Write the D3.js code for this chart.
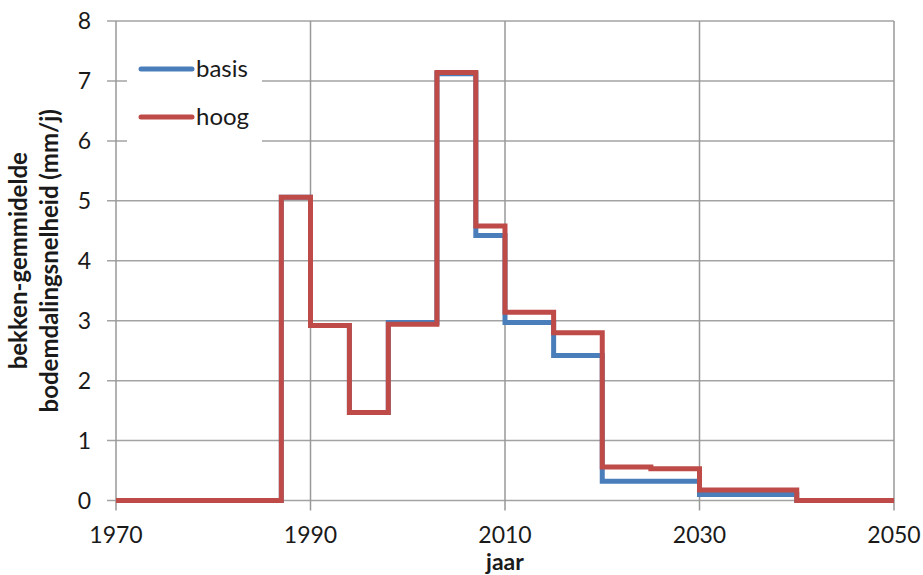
<!DOCTYPE html>
<html>
<head>
<meta charset="utf-8">
<script src="https://cdn.jsdelivr.net/npm/d3@7"></script>
<style>
  html, body { margin: 0; padding: 0; background: #fff; }
  svg { display: block; }
  text { font-family: Lato, "Open Sans", sans-serif; fill: #1a1a1a; }
</style>
</head>
<body>
<svg id="chart" width="923" height="575"></svg>
<script>
// Step edges (years) and the rate that applies from each edge onward
const years = [1970, 1987, 1990, 1994, 1998, 2003, 2007, 2010, 2015, 2020, 2025, 2030, 2040, 2050];
const basis = [0, 5.06, 2.92, 1.47, 2.97, 7.12, 4.42, 2.97, 2.42, 0.32, 0.32, 0.10, 0, 0];
const hoog  = [0, 5.06, 2.92, 1.47, 2.94, 7.14, 4.58, 3.14, 2.80, 0.56, 0.53, 0.175, 0, 0];

const xTicks = [1970, 1990, 2010, 2030, 2050];
const yTicks = [0, 1, 2, 3, 4, 5, 6, 7, 8];
const seriesNames = ["basis", "hoog"];
const seriesColors = ["#4a7ebb", "#be4b48"];

const plot = { left: 116, right: 894, top: 21, bottom: 500.5 };

const svg = d3.select("#chart");
const x = d3.scaleLinear().domain([1970, 2050]).range([plot.left, plot.right]);
const y = d3.scaleLinear().domain([0, 8]).range([plot.bottom, plot.top]);

const gridColor = "#a3a3a3";

// horizontal gridlines
svg.append("g").selectAll("line").data(yTicks).join("line")
  .attr("x1", plot.left - 9).attr("x2", plot.right)
  .attr("y1", d => y(d)).attr("y2", d => y(d))
  .attr("stroke", gridColor).attr("stroke-width", 1.5);

// vertical gridlines
svg.append("g").selectAll("line").data(xTicks).join("line")
  .attr("x1", d => x(d)).attr("x2", d => x(d))
  .attr("y1", plot.top).attr("y2", plot.bottom + 10)
  .attr("stroke", "#999").attr("stroke-width", 1.5);

// y tick labels
svg.append("g").selectAll("text").data(yTicks).join("text")
  .attr("x", 91).attr("y", d => y(d)).attr("dy", "0.36em")
  .attr("text-anchor", "end").attr("font-size", 23)
  .text(d => d);

// x tick labels
svg.append("g").selectAll("text").data(xTicks).join("text")
  .attr("x", d => x(d)).attr("y", 535).attr("dy", "0.36em")
  .attr("text-anchor", "middle").attr("font-size", 23)
  .text(d => d);

// axis titles
svg.append("text")
  .attr("x", (plot.left + plot.right) / 2).attr("y", 569.5)
  .attr("text-anchor", "middle").attr("font-size", 23).attr("font-weight", "bold")
  .text("jaar");

const yTitle = svg.append("text")
  .attr("transform", `translate(0, ${(plot.top + plot.bottom) / 2}) rotate(-90)`)
  .attr("text-anchor", "middle").attr("font-size", 24).attr("font-weight", "bold");
yTitle.append("tspan").attr("x", 0).attr("y", 27).text("bekken-gemmidelde");
yTitle.append("tspan").attr("x", 0).attr("y", 58).text("bodemdalingsnelheid (mm/j)");

// step lines
const line = d3.line().curve(d3.curveStepAfter)
  .x(d => x(d[0])).y(d => y(d[1]));

[basis, hoog].forEach((vals, i) => {
  svg.append("path")
    .datum(years.map((yr, k) => [yr, vals[k]]))
    .attr("d", line)
    .attr("fill", "none")
    .attr("stroke", seriesColors[i])
    .attr("stroke-width", 5)
    .attr("stroke-linejoin", "miter");
});

// legend
const legend = svg.append("g");
legend.append("rect").attr("x", 127).attr("y", 45).attr("width", 135).attr("height", 100).attr("fill", "#fff");
seriesNames.forEach((name, i) => {
  const ly = 69 + i * 48;
  legend.append("line")
    .attr("x1", 141).attr("x2", 192).attr("y1", ly).attr("y2", ly)
    .attr("stroke", seriesColors[i]).attr("stroke-width", 5).attr("stroke-linecap", "round");
  legend.append("text")
    .attr("x", 196).attr("y", ly).attr("dy", "0.33em")
    .attr("font-size", 24).text(name);
});
</script>
</body>
</html>
